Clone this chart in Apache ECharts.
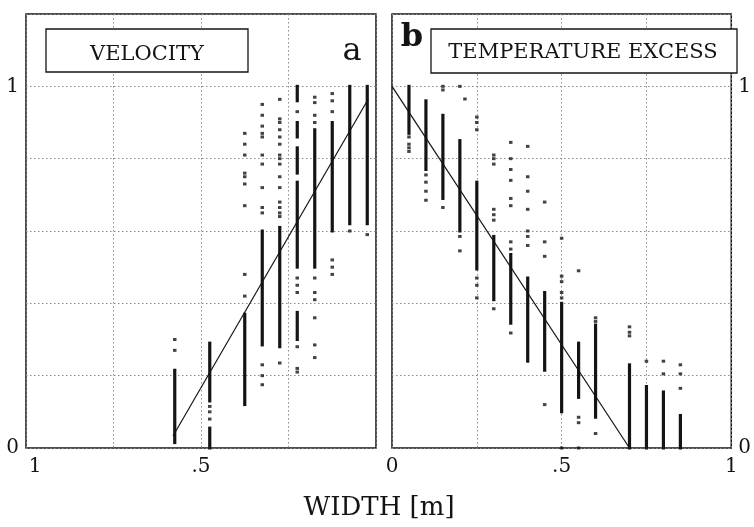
<!DOCTYPE html>
<html>
<head>
<meta charset="utf-8">
<script src="https://cdn.jsdelivr.net/npm/echarts@6/dist/echarts.min.js"></script>
<style>
html,body{margin:0;padding:0;background:#fff;}
#chart{width:754px;height:527px;}
</style>
</head>
<body>
<div id="chart"></div>
<script>
// ---- Data ----
// Panel a: VELOCITY vs WIDTH (axis runs 1 -> 0)
// dense runs of points: [width, low, high]
const velRuns = [
  [0.575, 0.015, 0.215],
  [0.475, 0.13, 0.29],
  [0.475, 0.0, 0.055],
  [0.375, 0.12, 0.37],
  [0.325, 0.285, 0.60],
  [0.275, 0.28, 0.61],
  [0.225, 0.96, 1.0],
  [0.225, 0.86, 0.90],
  [0.225, 0.76, 0.83],
  [0.225, 0.50, 0.735],
  [0.225, 0.30, 0.375],
  [0.175, 0.50, 0.88],
  [0.125, 0.60, 0.90],
  [0.075, 0.62, 1.0],
  [0.025, 0.62, 1.0]
];
// isolated points: [width, [values]]
const velDots = [
  [0.575, [0.27, 0.30]],
  [0.475, [0.08, 0.10, 0.115]],
  [0.375, [0.87, 0.84, 0.81, 0.76, 0.75, 0.73, 0.67, 0.48, 0.42]],
  [0.325, [0.95, 0.92, 0.89, 0.87, 0.86, 0.81, 0.785, 0.72, 0.665, 0.65, 0.23, 0.20, 0.175]],
  [0.275, [0.964, 0.91, 0.90, 0.88, 0.86, 0.84, 0.81, 0.80, 0.785, 0.75, 0.72, 0.68, 0.665, 0.65, 0.64, 0.235]],
  [0.225, [0.93, 0.47, 0.45, 0.43, 0.28, 0.22, 0.21]],
  [0.175, [0.97, 0.955, 0.92, 0.90, 0.47, 0.43, 0.41, 0.36, 0.285, 0.25]],
  [0.125, [0.98, 0.96, 0.93, 0.52, 0.50, 0.48]],
  [0.075, [0.60]],
  [0.025, [0.59]]
];
const velFit = [[0.58, 0.033], [0.022, 0.965]];

// Panel b: TEMPERATURE EXCESS vs WIDTH (axis runs 0 -> 1)
const tempRuns = [
  [0.05, 0.87, 1.0],
  [0.10, 0.77, 0.96],
  [0.15, 0.69, 0.92],
  [0.20, 0.60, 0.85],
  [0.25, 0.495, 0.735],
  [0.30, 0.41, 0.585],
  [0.35, 0.345, 0.535],
  [0.40, 0.24, 0.47],
  [0.45, 0.215, 0.43],
  [0.50, 0.10, 0.40],
  [0.55, 0.14, 0.29],
  [0.60, 0.085, 0.34],
  [0.70, 0.0, 0.23],
  [0.75, 0.0, 0.17],
  [0.80, 0.0, 0.155],
  [0.85, 0.0, 0.09]
];
const tempDots = [
  [0.05, [0.86, 0.84, 0.83, 0.82]],
  [0.10, [0.755, 0.735, 0.71, 0.685]],
  [0.15, [1.0, 0.99, 0.665]],
  [0.20, [1.0, 0.585, 0.545]],
  [0.215, [0.965]],
  [0.25, [0.915, 0.90, 0.88, 0.47, 0.45, 0.415]],
  [0.30, [0.81, 0.80, 0.785, 0.66, 0.645, 0.63, 0.385]],
  [0.35, [0.845, 0.80, 0.77, 0.74, 0.69, 0.67, 0.57, 0.55, 0.318]],
  [0.40, [0.834, 0.75, 0.71, 0.66, 0.60, 0.585, 0.56]],
  [0.45, [0.68, 0.57, 0.53, 0.12]],
  [0.50, [0.58, 0.475, 0.46, 0.43, 0.415, 0.0]],
  [0.55, [0.49, 0.085, 0.07, 0.0]],
  [0.60, [0.36, 0.35, 0.04]],
  [0.70, [0.335, 0.32, 0.31]],
  [0.75, [0.24]],
  [0.80, [0.24, 0.205]],
  [0.85, [0.23, 0.205, 0.165]]
];
const tempFit = [[0, 1], [0.7, 0]];

const leftXLabels = {1: '{shift|1}', 0.5: '.5'};
const rightXLabels = {0: '0', 0.5: '.5', 1: '1'};
const yLabels = {0: '0', 1: '1'};

// ---- Helpers ----
function flatDots(groups) {
  const out = [];
  groups.forEach(g => g[1].forEach(v => out.push([g[0], v])));
  return out;
}
function labelFor(map) {
  return function (v) {
    for (const k in map) { if (Math.abs(v - Number(k)) < 1e-6) return map[k]; }
    return '';
  };
}
const FONT = '"DejaVu Serif", "Liberation Serif", serif';
const INK = '#141414';
function runItem(params, api) {
  const x = api.value(0), lo = api.value(1), hi = api.value(2);
  const p1 = api.coord([x, hi]);
  const p2 = api.coord([x, lo]);
  return {
    type: 'rect',
    shape: { x: p1[0] - 1.6, y: p1[1] - 1.5, width: 3.2, height: p2[1] - p1[1] + 3 },
    style: { fill: INK }
  };
}
const splitStyle = { show: true, lineStyle: { color: '#8a8a8a', type: [1.5, 2.5], width: 1 } };

function xAxisCfg(idx, inverse, map) {
  return {
    gridIndex: idx, type: 'value', min: 0, max: 1, interval: 0.25, inverse: inverse,
    axisLine: { show: false }, axisTick: { show: false },
    splitLine: splitStyle,
    axisLabel: {
      margin: 9, fontFamily: FONT, fontSize: 20, color: INK,
      formatter: labelFor(map),
      rich: { shift: { fontFamily: FONT, fontSize: 20, color: INK, padding: [0, 0, 0, 18] } }
    }
  };
}
function yAxisCfg(idx, pos) {
  return {
    gridIndex: idx, type: 'value', min: 0, max: 1.2, interval: 0.2, position: pos,
    axisLine: { show: false }, axisTick: { show: false },
    splitLine: splitStyle,
    axisLabel: {
      margin: 7, fontFamily: FONT, fontSize: 20, color: INK,
      formatter: labelFor(yLabels)
    }
  };
}

const chart = echarts.init(document.getElementById('chart'));
chart.setOption({
  backgroundColor: '#ffffff',
  animation: false,
  grid: [
    { left: 26, top: 14, width: 350, height: 434, show: true, borderColor: INK, borderWidth: 1.5, backgroundColor: 'transparent' },
    { left: 392, top: 14, width: 346, height: 434, show: true, borderColor: INK, borderWidth: 1.5, backgroundColor: 'transparent' }
  ],
  xAxis: [xAxisCfg(0, true, leftXLabels), xAxisCfg(1, false, rightXLabels)],
  yAxis: [yAxisCfg(0, 'left'), yAxisCfg(1, 'right')],
  series: [
    { type: 'custom', xAxisIndex: 0, yAxisIndex: 0, renderItem: runItem, data: velRuns, encode: { x: 0, y: [1, 2] }, silent: true },
    { type: 'scatter', xAxisIndex: 0, yAxisIndex: 0, data: flatDots(velDots), symbol: 'rect', symbolSize: [3.5, 3], itemStyle: { color: INK }, silent: true },
    { type: 'line', xAxisIndex: 0, yAxisIndex: 0, data: velFit, showSymbol: false, lineStyle: { color: INK, width: 1.2 }, silent: true },
    { type: 'custom', xAxisIndex: 1, yAxisIndex: 1, renderItem: runItem, data: tempRuns, encode: { x: 0, y: [1, 2] }, silent: true },
    { type: 'scatter', xAxisIndex: 1, yAxisIndex: 1, data: flatDots(tempDots), symbol: 'rect', symbolSize: [3.5, 3], itemStyle: { color: INK }, silent: true },
    { type: 'line', xAxisIndex: 1, yAxisIndex: 1, data: tempFit, showSymbol: false, lineStyle: { color: INK, width: 1.2 }, silent: true }
  ],
  graphic: [
    { type: 'rect', shape: { x: 46, y: 29, width: 202, height: 43 }, style: { fill: '#fff', stroke: INK, lineWidth: 1.3 }, z: 100 },
    { type: 'text', x: 147, y: 55, style: { text: 'VELOCITY', font: '21px ' + FONT, fill: INK, align: 'center', verticalAlign: 'middle' }, z: 101 },
    { type: 'text', x: 352, y: 52, style: { text: 'a', font: '32px ' + FONT, fill: INK, align: 'center', verticalAlign: 'middle' }, z: 101 },
    { type: 'text', x: 412, y: 38, style: { text: 'b', font: 'bold 32px ' + FONT, fill: INK, align: 'center', verticalAlign: 'middle' }, z: 101 },
    { type: 'rect', shape: { x: 431, y: 29, width: 306, height: 44 }, style: { fill: '#fff', stroke: INK, lineWidth: 1.3 }, z: 100 },
    { type: 'text', x: 583, y: 53, style: { text: 'TEMPERATURE EXCESS', font: '21px ' + FONT, fill: INK, align: 'center', verticalAlign: 'middle' }, z: 101 },
    { type: 'text', x: 379, y: 508, style: { text: 'WIDTH [m]', font: '26px ' + FONT, fill: INK, align: 'center', verticalAlign: 'middle' }, z: 101 }
  ]
});
</script>
</body>
</html>
